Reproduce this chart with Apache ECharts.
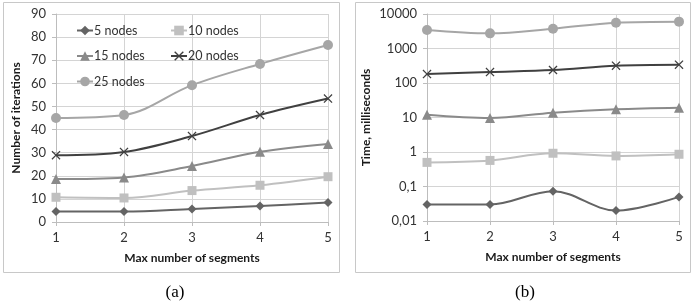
<!DOCTYPE html>
<html>
<head>
<meta charset="utf-8">
<script src="https://cdn.jsdelivr.net/npm/echarts@6/dist/echarts.min.js"></script>
<style>
  html, body { margin: 0; padding: 0; background: #fff; }
  #chart { width: 698px; height: 304px; }
</style>
</head>
<body>
<div id="chart"></div>
<script>
// data
var segments = ['1', '2', '3', '4', '5'];
var seriesNames = ['5 nodes', '10 nodes', '15 nodes', '20 nodes', '25 nodes'];

// (a) number of iterations
var iter5 = [4.5, 4.5, 5.6, 6.9, 8.4];
var iter10 = [10.7, 10.4, 13.6, 15.9, 19.6];
var iter15 = [18.6, 19.3, 24.2, 30.4, 33.8];
var iter20 = [28.9, 30.3, 37.2, 46.3, 53.4];
var iter25 = [45, 46.3, 59.2, 68.4, 76.6];

// (b) time, milliseconds
var time5 = [0.03, 0.03, 0.073, 0.02, 0.05];
var time10 = [0.5, 0.57, 0.92, 0.77, 0.86];
var time15 = [12, 9.7, 13.8, 17.3, 19.2];
var time20 = [182, 208, 238, 318, 340];
var time25 = [3440, 2750, 3750, 5600, 6000];

var logTickLabels = ['0,01', '0,1', '1', '10', '100', '1000', '10000'];

var colors = ['#646464', '#c0c0c0', '#8a8a8a', '#404040', '#a6a6a6'];
var symbols = [
  'path://M5,0L10,5L5,10L0,5Z',
  'rect',
  'triangle',
  'path://M0,1L1,0L5,4L9,0L10,1L6,5L10,9L9,10L5,6L1,10L0,9L4,5Z',
  'circle'
];
var symbolSizes = [9, 9, 10, 9, 10];

var font = 'Lato, "Open Sans", sans-serif';

function makeSeries(values, idx, gridIdx) {
  return {
    name: seriesNames[idx],
    type: 'line',
    xAxisIndex: gridIdx,
    yAxisIndex: gridIdx,
    data: values,
    smooth: 0.35,
    symbol: symbols[idx],
    symbolSize: symbolSizes[idx],
    showSymbol: true,
    lineStyle: { color: colors[idx], width: 2 },
    itemStyle: { color: colors[idx] },
    emphasis: { disabled: true },
    z: idx === 3 ? 3 : 2
  };
}

function xAxis(gridIdx) {
  return {
    type: 'category',
    gridIndex: gridIdx,
    data: segments,
    boundaryGap: false,
    name: 'Max number of segments',
    nameLocation: 'middle',
    nameGap: 30,
    nameTextStyle: { fontFamily: font, fontSize: 12, fontWeight: 'bold', color: '#1a1a1a' },
    axisLine: { lineStyle: { color: '#bdbdbd' } },
    axisTick: { show: true, alignWithLabel: true, length: 4, lineStyle: { color: '#bdbdbd' } },
    axisLabel: { fontFamily: font, fontSize: 13, color: '#333', margin: 9 },
    splitLine: { show: true, lineStyle: { color: '#d4d4d4' } }
  };
}

var legendCommon = {
  orient: 'vertical', top: 24, padding: 0,
  itemWidth: 16, itemHeight: 12, itemGap: 12.5,
  textStyle: { fontFamily: font, fontSize: 12.5, color: '#333', padding: [0, 0, 0, -4] }
};

var chart = echarts.init(document.getElementById('chart'));
chart.setOption({
  animation: false,
  backgroundColor: '#fff',
  title: [
    { text: '(a)', left: 170, top: 279, textAlign: 'center',
      textStyle: { fontFamily: '"Liberation Serif", serif', fontSize: 17, fontWeight: 'normal', color: '#000' } },
    { text: '(b)', left: 520, top: 279, textAlign: 'center',
      textStyle: { fontFamily: '"Liberation Serif", serif', fontSize: 17, fontWeight: 'normal', color: '#000' } }
  ],
  graphic: [
    { type: 'rect', shape: { x: 3.5, y: 2.5, width: 336, height: 270 },
      style: { fill: 'none', stroke: '#c8c8c8', lineWidth: 1 }, z: -10 },
    { type: 'rect', shape: { x: 355.5, y: 2.5, width: 335, height: 270 },
      style: { fill: 'none', stroke: '#c8c8c8', lineWidth: 1 }, z: -10 }
  ],
  legend: [
    Object.assign({}, legendCommon, { left: 76, data: ['5 nodes', '15 nodes', '25 nodes'] }),
    Object.assign({}, legendCommon, { left: 170, data: ['10 nodes', '20 nodes'] })
  ],
  grid: [
    { left: 56, right: 370, top: 14, bottom: 82 },
    { left: 427, right: 19, top: 14, bottom: 83 }
  ],
  xAxis: [xAxis(0), xAxis(1)],
  yAxis: [
    {
      type: 'value',
      gridIndex: 0,
      min: 0, max: 90, interval: 10,
      name: 'Number of iterations',
      nameLocation: 'middle',
      nameGap: 34,
      nameTextStyle: { fontFamily: font, fontSize: 12, fontWeight: 'bold', color: '#1a1a1a' },
      axisLine: { show: true, lineStyle: { color: '#bdbdbd' } },
      axisTick: { show: true, length: 4, lineStyle: { color: '#bdbdbd' } },
      axisLabel: { fontFamily: font, fontSize: 13, color: '#333', margin: 10 },
      splitLine: { show: true, lineStyle: { color: '#d4d4d4' } }
    },
    {
      type: 'log',
      gridIndex: 1,
      logBase: 10,
      min: 0.01, max: 10000,
      name: 'Time, milliseconds',
      nameLocation: 'middle',
      nameGap: 55,
      nameTextStyle: { fontFamily: font, fontSize: 12, fontWeight: 'bold', color: '#1a1a1a' },
      axisLine: { show: true, lineStyle: { color: '#bdbdbd' } },
      axisTick: { show: true, length: 4, lineStyle: { color: '#bdbdbd' } },
      axisLabel: {
        fontFamily: font, fontSize: 13, color: '#333', margin: 10,
        formatter: function (v) {
          var k = Math.round(Math.log10(v)) + 2;
          return logTickLabels[k] !== undefined ? logTickLabels[k] : '';
        }
      },
      splitLine: { show: true, lineStyle: { color: '#d4d4d4' } }
    }
  ],
  series: [
    makeSeries(iter5, 0, 0),
    makeSeries(iter10, 1, 0),
    makeSeries(iter15, 2, 0),
    makeSeries(iter20, 3, 0),
    makeSeries(iter25, 4, 0),
    makeSeries(time5, 0, 1),
    makeSeries(time10, 1, 1),
    makeSeries(time15, 2, 1),
    makeSeries(time20, 3, 1),
    makeSeries(time25, 4, 1)
  ]
});
</script>
</body>
</html>
